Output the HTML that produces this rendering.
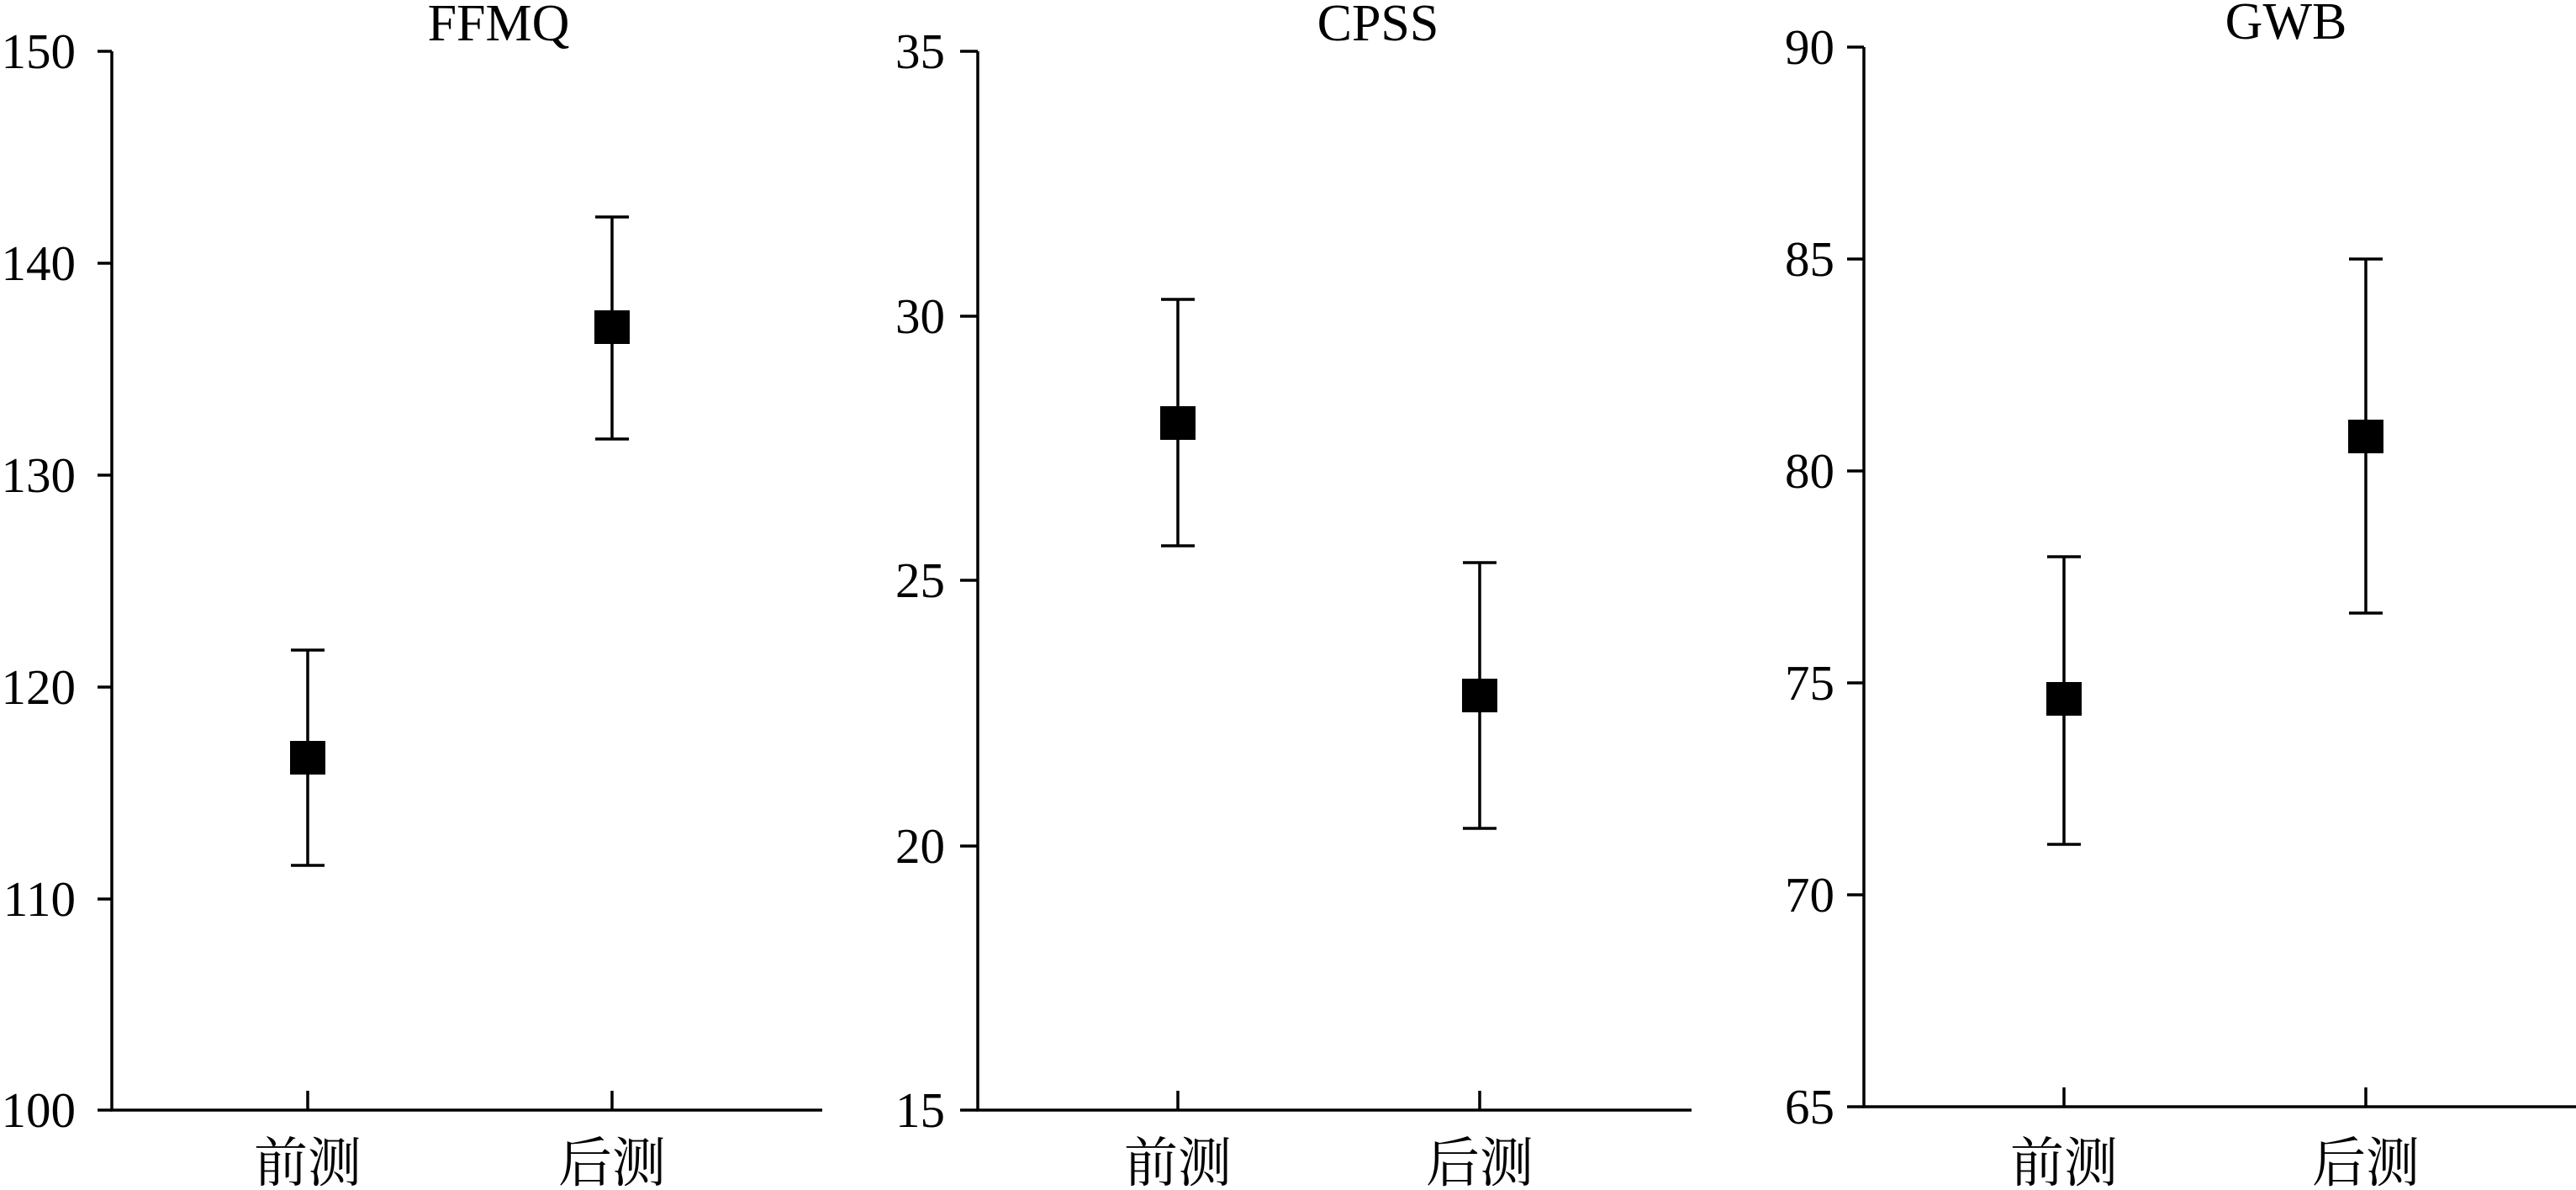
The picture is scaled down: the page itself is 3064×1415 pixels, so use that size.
<!DOCTYPE html>
<html><head><meta charset="utf-8"><style>html,body{margin:0;padding:0;background:#fff}svg{display:block}</style></head><body>
<svg width="3064" height="1415" viewBox="0 0 3064 1415" xmlns="http://www.w3.org/2000/svg" font-family="Liberation Serif, 'Noto Serif CJK SC', serif">
<g stroke="#000" stroke-width="3.5" fill="none">
<!-- Panel 1 -->
<path d="M133 61V1320H978"/>
<path d="M116 61H133M116 313H133M116 565H133M116 817H133M116 1069H133M116 1320H133"/>
<path d="M366 1297V1320M728 1297V1320"/>
<path d="M366 773V1029M346 773H386M346 1029H386"/>
<path d="M728 258V522M708 258H748M708 522H748"/>
<!-- Panel 2 -->
<path d="M1163 61V1320H2012"/>
<path d="M1142 61H1163M1142 376H1163M1142 690H1163M1142 1006H1163M1142 1320H1163"/>
<path d="M1401 1297V1320M1760 1297V1320"/>
<path d="M1401 356V649M1381 356H1421M1381 649H1421"/>
<path d="M1760 669V985M1740 669H1780M1740 985H1780"/>
<!-- Panel 3 -->
<path d="M2217 56V1316H3064"/>
<path d="M2197 56H2217M2197 308H2217M2197 560H2217M2197 812H2217M2197 1064H2217M2197 1316H2217"/>
<path d="M2455 1293V1316M2814 1293V1316"/>
<path d="M2455 662V1004M2435 662H2475M2435 1004H2475"/>
<path d="M2814 308V729M2794 308H2834M2794 729H2834"/>
</g>
<g fill="#000">
<rect x="345" y="881" width="42" height="40"/>
<rect x="707" y="369" width="42" height="40"/>
<rect x="1380" y="483" width="42" height="40"/>
<rect x="1739" y="807" width="42" height="40"/>
<rect x="2434" y="811" width="42" height="40"/>
<rect x="2793" y="499" width="42" height="40"/>
</g>
<g font-size="59" text-anchor="end" fill="#000">
<text x="90" y="81">150</text><text x="90" y="333">140</text><text x="90" y="585">130</text><text x="90" y="837">120</text><text x="90" y="1089">110</text><text x="90" y="1340">100</text>
<text x="1124" y="81">35</text><text x="1124" y="396">30</text><text x="1124" y="710">25</text><text x="1124" y="1026">20</text><text x="1124" y="1340">15</text>
<text x="2182" y="76">90</text><text x="2182" y="328">85</text><text x="2182" y="580">80</text><text x="2182" y="832">75</text><text x="2182" y="1084">70</text><text x="2182" y="1336">65</text>
</g>
<g font-size="62" text-anchor="middle" fill="#000">
<text x="593" y="48">FFMQ</text><text x="1639" y="48">CPSS</text><text x="2719" y="46">GWB</text>
</g>
<g font-size="64" text-anchor="middle" fill="#000" font-family="'Noto Serif CJK SC', serif">
<text x="366" y="1405">前测</text><text x="728" y="1405">后测</text>
<text x="1401" y="1405">前测</text><text x="1760" y="1405">后测</text>
<text x="2455" y="1405">前测</text><text x="2814" y="1405">后测</text>
</g>
</svg>
</body></html>
